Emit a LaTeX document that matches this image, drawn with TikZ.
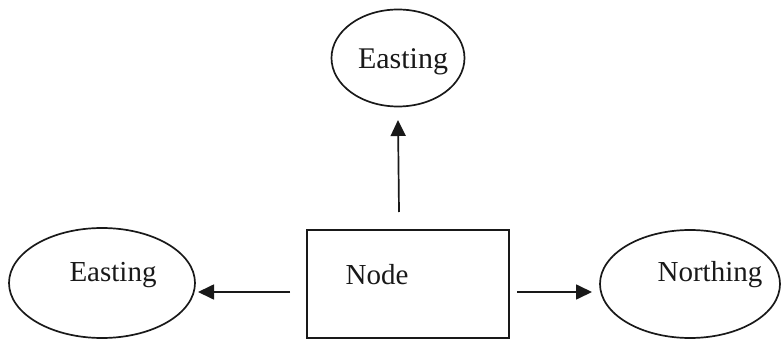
\documentclass[tikz,border=0pt]{standalone}
\usepackage{fontspec}
\setmainfont{Liberation Serif}
\usetikzlibrary{shapes.geometric,arrows.meta}
\begin{document}
\begin{tikzpicture}[x=1pt,y=-1pt,
  shp/.style={draw=black!90,line width=1.7pt,inner sep=0pt},
  oval/.style={shp,ellipse},
  lbl/.style={font=\fontsize{29}{31}\selectfont,text=black!90,inner sep=0pt},
  conn/.style={draw=black!90,line width=1.7pt,-{Triangle[length=16pt,width=15pt]}}]
\useasboundingbox (0,0) rectangle (781,339);
\node[oval,minimum width=133pt,minimum height=97pt] (top) at (398,58) {};
\node[oval,minimum width=186pt,minimum height=110pt] (left) at (102,283) {};
\node[oval,minimum width=180pt,minimum height=108pt] (right) at (690,284) {};
\node[shp,rectangle,minimum width=202pt,minimum height=108pt] (box) at (408,284) {};
\node[lbl,font=\fontsize{30}{32}\selectfont] (tt) at (403,62) {Easting};
\node[lbl] (lt) at (113,275) {Easting};
\node[lbl] (rt) at (710,275) {Northing};
\node[lbl] (bt) at (377,275) {Node};
\coordinate (upt) at (399,212);
\coordinate (lt0) at (290,292);
\coordinate (rt0) at (517,292);
\draw[conn] (upt) -- (top.south |- 0,120);
\draw[conn] (lt0) -- (198,292);
\draw[conn] (rt0) -- (592,292);
\end{tikzpicture}
\end{document}
